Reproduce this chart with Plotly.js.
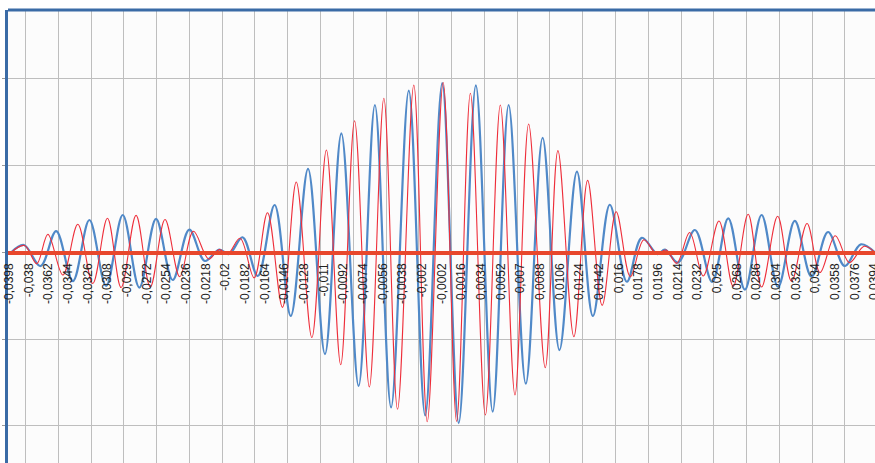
<!DOCTYPE html>
<html>
<head>
<meta charset="utf-8">
<script src="https://cdn.plot.ly/plotly-3.0.1.min.js"></script>
<style>html,body{margin:0;padding:0;background:#fff;}#chart{width:875px;height:463px;}</style>
</head>
<body>
<div id="chart"></div>
<script>
// Blue series: extrema (x = category value, y = gridline units)
var blueX = [-0.03960,-0.03844,-0.03692,-0.03549,-0.03396,-0.03245,-0.03092,-0.02940,-0.02788,-0.02635,
  -0.02483,-0.02331,-0.02188,-0.02057,-0.01966,-0.01843,-0.01704,-0.01550,-0.01402,-0.01244,
  -0.01089,-0.00939,-0.00781,-0.00632,-0.00484,-0.00322,-0.00172,-0.00016,0.00135,0.00292,
  0.00446,0.00592,0.00749,0.00903,0.01057,0.01217,0.01363,0.01518,0.01674,0.01811,
  0.01955,0.02023,0.02142,0.02297,0.02455,0.02602,0.02754,0.02907,0.03058,0.03211,
  0.03364,0.03515,0.03668,0.03816,0.03951];
var blueY = [0.00,0.084,-0.158,0.245,-0.331,0.372,-0.388,0.430,-0.406,0.386,
  -0.319,0.262,-0.100,0.031,-0.020,0.173,-0.273,0.545,-0.734,0.960,
  -1.172,1.371,-1.540,1.697,-1.788,1.862,-1.880,1.950,-1.967,1.922,
  -1.836,1.697,-1.514,1.320,-1.126,0.929,-0.734,0.548,-0.339,0.167,
  -0.020,0.030,-0.118,0.257,-0.342,0.392,-0.430,0.430,-0.400,0.361,
  -0.281,0.234,-0.158,0.092,-0.010];

// Red series: extrema
var redX = [-0.03960,-0.03839,-0.03727,-0.03625,-0.03488,-0.03351,-0.03214,-0.03080,-0.02955,-0.02818,
  -0.02688,-0.02553,-0.02418,-0.02293,-0.02153,-0.02057,-0.01980,-0.01866,-0.01737,-0.01615,
  -0.01478,-0.01352,-0.01209,-0.01076,-0.00945,-0.00818,-0.00683,-0.00550,-0.00425,-0.00276,
  -0.00153,-0.00007,0.00116,0.00242,0.00379,0.00516,0.00650,0.00775,0.00927,0.01043,
  0.01189,0.01315,0.01448,0.01576,0.01706,0.01829,0.01944,0.02033,0.02130,0.02249,
  0.02373,0.02517,0.02647,0.02784,0.02907,0.03054,0.03181,0.03323,0.03442,0.03581,
  0.03711,0.03846,0.03951];
var redY = [0.00,0.078,-0.131,0.207,-0.262,0.323,-0.359,0.392,-0.406,0.426,
  -0.400,0.378,-0.281,0.242,-0.077,0.031,-0.020,0.161,-0.294,0.456,
  -0.634,0.810,-0.982,1.179,-1.295,1.516,-1.552,1.774,-1.809,1.927,
  -1.952,1.956,-1.949,1.832,-1.874,1.697,-1.644,1.478,-1.329,1.171,
  -0.972,0.829,-0.611,0.468,-0.281,0.145,-0.016,0.026,-0.127,0.228,
  -0.273,0.361,-0.392,0.438,-0.400,0.415,-0.334,0.332,-0.233,0.190,
  -0.118,0.069,-0.010];

// Category-axis labels (every 9th category)
var tickVals = [-0.0398,-0.038,-0.0362,-0.0344,-0.0326,-0.0308,-0.029,-0.0272,-0.0254,-0.0236,
  -0.0218,-0.02,-0.0182,-0.0164,-0.0146,-0.0128,-0.011,-0.0092,-0.0074,-0.0056,
  -0.0038,-0.002,-0.0002,0.0016,0.0034,0.0052,0.007,0.0088,0.0106,0.0124,
  0.0142,0.016,0.0178,0.0196,0.0214,0.0232,0.025,0.0268,0.0286,0.0304,
  0.0322,0.034,0.0358,0.0376,0.0394];
var tickLabels = ["-0,0398","-0,038","-0,0362","-0,0344","-0,0326","-0,0308","-0,029","-0,0272","-0,0254","-0,0236",
  "-0,0218","-0,02","-0,0182","-0,0164","-0,0146","-0,0128","-0,011","-0,0092","-0,0074","-0,0056",
  "-0,0038","-0,002","-0,0002","0,0016","0,0034","0,0052","0,007","0,0088","0,0106","0,0124",
  "0,0142","0,016","0,0178","0,0196","0,0214","0,0232","0,025","0,0268","0,0286","0,0304",
  "0,0322","0,034","0,0358","0,0376","0,0394"];

var xRange = [-0.0399, 0.03945];
var yRange = [-2.4274, 2.7915];
var zeroPos = (0 - yRange[0]) / (yRange[1] - yRange[0]);

var traces = [
  {x: blueX, y: blueY, type: 'scatter', mode: 'lines', xaxis: 'x', yaxis: 'y',
   line: {color: '#5089C8', width: 2.2, shape: 'spline', smoothing: 1}, hoverinfo: 'skip'},
  {x: redX, y: redY, type: 'scatter', mode: 'lines', xaxis: 'x', yaxis: 'y',
   line: {color: '#EE2E3A', width: 1.1, shape: 'spline', smoothing: 1}, hoverinfo: 'skip'},
  {x: [], y: [], type: 'scatter', mode: 'lines', xaxis: 'x2', yaxis: 'y', hoverinfo: 'skip'}
];

var layout = {
  width: 875, height: 463,
  margin: {l: 8, r: 0, t: 10, b: 0, pad: 0},
  paper_bgcolor: '#ffffff',
  plot_bgcolor: '#fcfcfc',
  showlegend: false,
  xaxis: {
    range: xRange, tickmode: 'linear', tick0: -0.0383, dtick: 0.003,
    showgrid: true, gridcolor: '#bebebe', gridwidth: 1,
    showticklabels: false, ticks: '', zeroline: false, showline: false,
    anchor: 'y'
  },
  xaxis2: {
    range: xRange, overlaying: 'x', anchor: 'free', position: zeroPos, side: 'bottom',
    tickmode: 'array', tickvals: tickVals, ticktext: tickLabels, tickangle: -90,
    showgrid: false, zeroline: false,
    ticks: 'outside', ticklen: 4, tickcolor: 'rgba(0,0,0,0)',
    ticklabeloverflow: 'allow',
    showline: true, linecolor: '#E8472C', linewidth: 3.2, layer: 'above traces',
    tickfont: {family: 'Liberation Sans, Arial, sans-serif', size: 12, color: '#222222'}
  },
  yaxis: {
    range: yRange, tickmode: 'linear', tick0: 0, dtick: 1,
    showgrid: true, gridcolor: '#bebebe', gridwidth: 1,
    zeroline: false, showticklabels: false,
    ticks: 'outside', ticklen: 3, tickcolor: '#9a9a9a', tickwidth: 1,
    showline: true, linecolor: '#3A6BA6', linewidth: 3
  },
  shapes: [
    {type: 'line', xref: 'paper', yref: 'paper', x0: 0, x1: 1, y0: 1, y1: 1,
     line: {color: '#3A6BA6', width: 3}, layer: 'above'}
  ]
};

Plotly.newPlot('chart', traces, layout, {displayModeBar: false, staticPlot: true});
</script>
</body>
</html>
